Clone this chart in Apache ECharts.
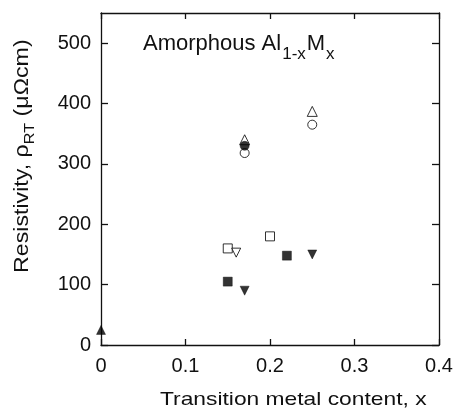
<!DOCTYPE html>
<html>
<head>
<meta charset="utf-8">
<script src="https://cdn.jsdelivr.net/npm/echarts@6/dist/echarts.min.js"></script>
<style>html,body{margin:0;padding:0;background:#fff;}#c{width:461px;height:411px;}</style>
</head>
<body>
<div id="c"></div>
<script>
// Data (x = transition metal content, y = resistivity in µΩcm)
const filledTriUp   = [[0, 25]];
const openTriUp     = [[0.17, 340], [0.25, 387]];
const openCircle    = [[0.17, 318], [0.25, 365]];
const filledCircle  = [[0.17, 330]];
const openSquare    = [[0.15, 160], [0.20, 180]];
const openTriDown   = [[0.16, 153]];
const filledSquare  = [[0.15, 105], [0.22, 148]];
const filledTriDown = [[0.17, 90], [0.25, 150]];

const xTicks = [0, 0.1, 0.2, 0.3, 0.4];
const yTicks = [0, 100, 200, 300, 400, 500];

const INK = '#000';
const FONT = '"Liberation Sans", Arial, Helvetica, sans-serif';

function sc(data, symbol, size, filled, rotate) {
  return {
    type: 'scatter', data: data, symbol: symbol, symbolSize: size,
    symbolRotate: rotate || 0,
    itemStyle: filled ? {color: INK, borderColor: INK, borderWidth: 0.5}
                      : {color: '#fff', borderColor: INK, borderWidth: 1},
    emphasis: {disabled: true}, silent: true, animation: false
  };
}

const axisLineStyle = {color: '#111', width: 1.3};
function xAx(pos, labels) {
  return {
    type: 'value', position: pos, min: 0, max: 0.4, interval: 0.1,
    splitLine: {show: false},
    axisLine: {show: true, onZero: false, lineStyle: axisLineStyle},
    axisTick: {show: true, inside: true, length: 6, customValues: xTicks, lineStyle: axisLineStyle},
    axisLabel: {show: labels, customValues: xTicks, margin: 11, color: '#111', fontSize: 20, fontFamily: FONT}
  };
}
function yAx(pos, labels) {
  return {
    type: 'value', position: pos, min: 0, max: 550, interval: 100,
    splitLine: {show: false},
    axisLine: {show: true, onZero: false, lineStyle: axisLineStyle},
    axisTick: {show: true, inside: true, length: 7, customValues: yTicks, lineStyle: axisLineStyle},
    axisLabel: {show: labels, customValues: yTicks, margin: 10, color: '#111', fontSize: 20, fontFamily: FONT}
  };
}

const chart = echarts.init(document.getElementById('c'), null, {renderer: 'canvas'});
chart.setOption({
  animation: false,
  backgroundColor: '#fff',
  grid: {left: 101, right: 22, top: 13, bottom: 66, containLabel: false},
  xAxis: [xAx('bottom', true), xAx('top', false)],
  yAxis: [yAx('left', true), yAx('right', false)],
  series: [
    sc(filledTriUp, 'triangle', 9, true),
    sc(openTriUp, 'triangle', 10, false),
    sc(openCircle, 'circle', 9, false),
    sc(filledCircle, 'circle', 9, true),
    sc(openSquare, 'rect', 9, false),
    sc(openTriDown, 'triangle', 9, false, 180),
    sc(filledSquare, 'rect', 9, true),
    sc(filledTriDown, 'triangle', 9, true, 180)
  ],
  graphic: [
    {
      type: 'text', x: 143, y: 33, silent: true,
      style: {
        text: '{m|Amorphous Al}{s|1-x}{m|M}{s|x}',
        textAlign: 'left', textVerticalAlign: 'top',
        fill: '#111', font: '22px ' + FONT,
        rich: {
          m: {fontSize: 22, lineHeight: 22, verticalAlign: 'top', fontFamily: FONT, fill: '#111'},
          s: {fontSize: 17, lineHeight: 17, padding: [13, 1, 0, 1], verticalAlign: 'top', fontFamily: FONT, fill: '#111'}
        }
      }
    },
    {
      type: 'text', x: 160, y: 390, scaleX: 1.2, silent: true,
      style: {
        text: 'Transition metal content, x',
        textAlign: 'left', textVerticalAlign: 'top',
        fill: '#111', font: '19px ' + FONT
      }
    },
    {
      type: 'text', x: 12, y: 273, rotation: Math.PI / 2, scaleX: 1.16, silent: true,
      style: {
        text: '{m|Resistivity, ρ}{s|RT}{m| (μΩcm)}',
        textAlign: 'left', textVerticalAlign: 'top',
        fill: '#111', font: '20px ' + FONT,
        rich: {
          m: {fontSize: 20, lineHeight: 20, verticalAlign: 'top', fontFamily: FONT, fill: '#111'},
          s: {fontSize: 14, lineHeight: 14, padding: [11, 0, 0, 0], verticalAlign: 'top', fontFamily: FONT, fill: '#111'}
        }
      }
    }
  ]
});
</script>
</body>
</html>
